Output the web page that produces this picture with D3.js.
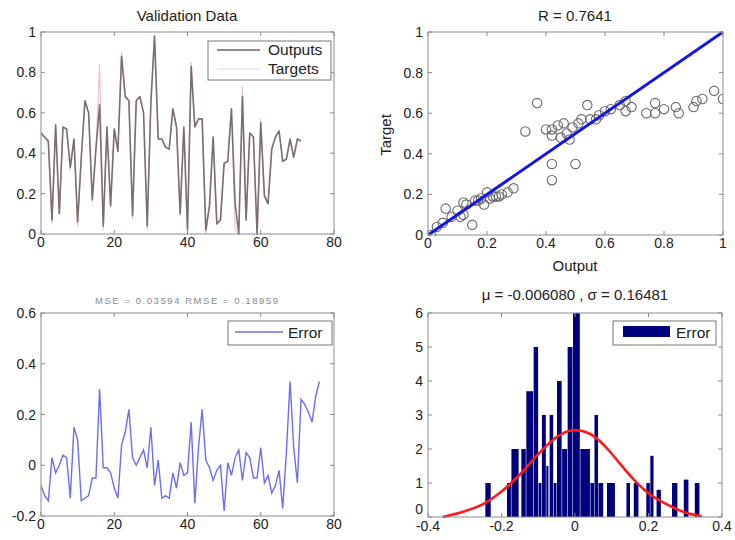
<!DOCTYPE html>
<html><head><meta charset="utf-8">
<script src="https://cdn.jsdelivr.net/npm/d3@7"></script>
<style>body{margin:0;background:#fff}svg{display:block;font-family:"Liberation Sans",Arial,sans-serif}</style>
</head><body><svg id="c" width="735" height="540"></svg>
<script>
// ---------- data ----------
const outputs = [0.50,0.48,0.46,0.07,0.54,0.10,0.53,0.52,0.33,0.47,
  0.06,0.38,0.66,0.60,0.17,0.42,0.64,0.04,0.53,0.14,
  0.52,0.41,0.88,0.68,0.66,0.09,0.66,0.68,0.60,0.04,
  0.65,0.98,0.47,0.47,0.43,0.42,0.62,0.53,0.10,0.53,
  0.02,0.83,0.53,0.57,0.57,0.02,0.14,0.48,0.05,0.07,
  0.35,0.36,0.62,0.15,0.00,0.68,0.07,0.50,0.48,0.00,
  0.55,0.19,0.15,0.42,0.48,0.51,0.36,0.37,0.47,0.38,
  0.47,0.46];
const targets = [0.50,0.48,0.45,0.05,0.54,0.10,0.53,0.52,0.32,0.47,
  0.04,0.38,0.66,0.60,0.16,0.42,0.84,0.02,0.53,0.13,
  0.52,0.41,0.90,0.68,0.66,0.08,0.66,0.68,0.60,0.02,
  0.65,0.98,0.47,0.47,0.43,0.42,0.62,0.53,0.09,0.53,
  0.00,0.85,0.53,0.57,0.57,0.00,0.14,0.48,0.05,0.07,
  0.35,0.36,0.62,0.02,0.00,0.73,0.07,0.50,0.48,0.00,
  0.57,0.19,0.15,0.42,0.48,0.51,0.36,0.37,0.47,0.38,
  0.47,0.46];
const errors = [-0.08,-0.12,-0.14,0.03,-0.03,0.00,0.04,0.03,-0.13,0.15,
  0.10,-0.14,-0.13,-0.12,-0.05,-0.05,0.30,-0.01,-0.01,-0.03,
  -0.09,-0.13,0.08,0.13,0.22,0.03,0.00,0.03,0.06,-0.01,
  0.15,-0.08,0.02,-0.13,-0.12,-0.13,-0.03,-0.09,0.01,-0.04,
  -0.03,0.17,-0.15,0.07,0.22,0.02,-0.01,-0.06,-0.02,0.00,
  -0.18,0.01,-0.04,0.03,0.06,-0.06,0.05,0.03,-0.05,-0.05,
  0.07,-0.07,-0.04,-0.11,-0.08,-0.02,-0.17,0.05,0.33,0.07,
  -0.07,0.26,0.24,0.21,0.17,0.27,0.33];
const scatterOutput = [0.01,0.03,0.05,0.06,0.08,0.10,0.11,0.12,0.12,0.13,0.15,0.16,0.17,0.18,0.19,0.20,0.21,0.22,0.23,0.24,0.25,0.27,0.29,
  0.33,0.37,0.40,0.42,0.42,0.42,0.42,0.44,0.45,0.46,0.47,0.48,0.49,0.50,0.51,0.52,0.54,0.55,0.57,0.58,0.60,0.62,0.65,0.67,0.67,0.69,
  0.74,0.77,0.77,0.80,0.84,0.85,0.90,0.91,0.93,0.97,1.00];
const scatterTarget = [0.00,0.04,0.06,0.13,0.09,0.12,0.09,0.16,0.10,0.15,0.05,0.17,0.17,0.18,0.15,0.21,0.18,0.19,0.19,0.19,0.20,0.21,0.23,
  0.51,0.65,0.52,0.49,0.35,0.27,0.52,0.54,0.48,0.55,0.50,0.47,0.53,0.35,0.55,0.57,0.64,0.57,0.57,0.59,0.61,0.62,0.64,0.66,0.61,0.63,
  0.60,0.65,0.60,0.62,0.63,0.60,0.63,0.66,0.67,0.71,0.67];
const binStart = [-0.244,-0.185,-0.173,-0.146,-0.1325,-0.1125,-0.099,-0.090,-0.078,-0.069,-0.058,-0.049,-0.035,-0.020,-0.0055,0.0145,0.042,0.053,0.064,0.087,0.140,0.160,0.194,0.205,0.222,0.264,0.296,0.326];
const binEnd   = [-0.228,-0.173,-0.152,-0.1325,-0.1125,-0.099,-0.090,-0.078,-0.071,-0.058,-0.049,-0.035,-0.020,-0.0055,0.0145,0.042,0.053,0.064,0.078,0.110,0.151,0.174,0.205,0.215,0.235,0.280,0.310,0.340];
const binCount = [1,1,2,2,3.7,5,1,3,1.5,3,1,4,2,5,6,2,1,3,1,1,1,1,1,1.8,0.8,1,1.1,1];
const fitX = [-0.36,-0.30,-0.25,-0.20,-0.15,-0.10,-0.05,-0.008,0.04,0.08,0.12,0.16,0.20,0.25,0.30,0.345];
const fitY = [0.0,0.17,0.38,0.75,1.25,1.85,2.35,2.55,2.45,2.10,1.60,1.10,0.70,0.37,0.13,0.02];

const ticksTime = [0,20,40,60,80];
const ticksUnit = [0,0.2,0.4,0.6,0.8,1];
const ticksErr = [-0.2,0,0.2,0.4,0.6];
const ticksHistX = [-0.4,-0.2,0,0.2,0.4];
const ticksHistY = [0,1,2,3,4,5,6];

// ---------- drawing ----------
const svg = d3.select("#c");
const FS = 14, TFS = 15, LFS = 15.5, TXT = "#222", AX = "#8c8c8c";
const fmt = v => d3.format("~g")(+v.toFixed(4)).replace("\u2212","-");
let clipId = 0;

function panel(b, xDom, yDom, xt, yt, opts) {
  const x = d3.scaleLinear().domain(xDom).range([b.l, b.r]);
  const y = d3.scaleLinear().domain(yDom).range([b.b, b.t]);
  const g = svg.append("g");
  const id = "clip" + (clipId++);
  svg.append("clipPath").attr("id", id).append("rect")
    .attr("x", b.l).attr("y", b.t - 1).attr("width", b.r - b.l).attr("height", b.b - b.t + 2);
  const marks = g.append("g").attr("clip-path", `url(#${id})`);
  const ax = g.append("g");
  return {x, y, marks, ax, b, xt, yt, opts: opts || {}};
}
function finishAxes(p) {
  const {x, y, ax, b, xt, yt, opts} = p;
  ax.append("rect").attr("x", b.l).attr("y", b.t).attr("width", b.r - b.l).attr("height", b.b - b.t)
    .attr("fill", "none").attr("stroke", AX).attr("stroke-width", 1);
  const tl = 4;
  xt.forEach(v => {
    ax.append("line").attr("x1", x(v)).attr("x2", x(v)).attr("y1", b.b).attr("y2", b.b - tl).attr("stroke", AX);
    ax.append("line").attr("x1", x(v)).attr("x2", x(v)).attr("y1", b.t).attr("y2", b.t + tl).attr("stroke", AX);
    ax.append("text").attr("x", x(v)).attr("y", b.b + (opts.xOff || 13)).attr("text-anchor", "middle")
      .attr("font-size", FS).attr("fill", TXT).text(fmt(v));
  });
  yt.forEach((v, i) => {
    ax.append("line").attr("y1", y(v)).attr("y2", y(v)).attr("x1", b.l).attr("x2", b.l + tl).attr("stroke", AX);
    ax.append("line").attr("y1", y(v)).attr("y2", y(v)).attr("x1", b.r).attr("x2", b.r - tl).attr("stroke", AX);
    const dy = (i === 0 && opts.y0Off !== undefined) ? opts.y0Off : 5;
    ax.append("text").attr("x", b.l - 5).attr("y", y(v) + dy).attr("text-anchor", "end")
      .attr("font-size", FS).attr("fill", TXT).text(fmt(v));
  });
}
function title(x, y, t, size, color) {
  svg.append("text").attr("x", x).attr("y", y).attr("text-anchor", "middle")
    .attr("font-size", size || TFS).attr("fill", color || TXT).text(t);
}

// Panel 1: Validation data
const p1 = panel({l:41, r:334, t:32, b:234}, [0,80], [0,1], ticksTime, ticksUnit);
const line1 = d3.line().x((d,i) => p1.x(i)).y(d => p1.y(d));
p1.marks.append("path").attr("d", line1(targets)).attr("fill","none").attr("stroke","#f0c4c4").attr("stroke-width",1.2).attr("stroke-linejoin","round");
p1.marks.append("path").attr("d", line1(outputs)).attr("fill","none").attr("stroke","#6e6464").attr("stroke-width",1.6).attr("stroke-linejoin","round").attr("opacity",0.9);
finishAxes(p1);
title(187, 21, "Validation Data");
{
  const lg = svg.append("g");
  lg.append("rect").attr("x",208).attr("y",41).attr("width",123).attr("height",39).attr("fill","#fff").attr("stroke","#777");
  lg.append("line").attr("x1",217).attr("x2",260).attr("y1",50).attr("y2",50).attr("stroke","#6e6464").attr("stroke-width",1.3);
  lg.append("line").attr("x1",217).attr("x2",260).attr("y1",69).attr("y2",69).attr("stroke","#f0d4d4").attr("stroke-width",1.1);
  lg.append("text").attr("x",268).attr("y",55).attr("font-size",LFS).attr("fill",TXT).text("Outputs");
  lg.append("text").attr("x",268).attr("y",74).attr("font-size",LFS).attr("fill",TXT).text("Targets");
}

// Panel 2: regression
const p2 = panel({l:428, r:723, t:32, b:235}, [0,1], [0,1], ticksUnit, ticksUnit);
p2.marks.selectAll("circle").data(scatterOutput).join("circle")
  .attr("cx", d => p2.x(d)).attr("cy", (d,i) => p2.y(scatterTarget[i])).attr("r", 4.7)
  .attr("fill","none").attr("stroke","#6a6a6a").attr("stroke-width",1.1);
p2.marks.append("line").attr("x1", p2.x(0)).attr("y1", p2.y(0)).attr("x2", p2.x(1)).attr("y2", p2.y(1))
  .attr("stroke","#1414e6").attr("stroke-width",3);
finishAxes(p2);
title(575, 21, "R = 0.7641");
title(575, 271, "Output");
svg.append("text").attr("transform","translate(391,135) rotate(-90)").attr("text-anchor","middle")
  .attr("font-size",TFS).attr("fill",TXT).text("Target");

// Panel 3: error
const p3 = panel({l:41, r:334, t:313, b:516}, [0,80], [-0.2,0.6], ticksTime, ticksErr);
const line3 = d3.line().x((d,i) => p3.x(i)).y(d => p3.y(d));
p3.marks.append("path").attr("d", line3(errors)).attr("fill","none").attr("stroke","#6d6df2").attr("stroke-width",1.4);
finishAxes(p3);
svg.append("text").attr("x",95).attr("y",304).attr("font-size",9.5).attr("fill","#8a8a8a")
  .attr("textLength",183).attr("lengthAdjust","spacing").text("MSE = 0.03594   RMSE = 0.18959");
{
  const lg = svg.append("g");
  lg.append("rect").attr("x",228).attr("y",321).attr("width",104).attr("height",24).attr("fill","#fff").attr("stroke","#777");
  lg.append("line").attr("x1",235).attr("x2",283).attr("y1",332).attr("y2",332).attr("stroke","#6d6df2").attr("stroke-width",1.4);
  lg.append("text").attr("x",288).attr("y",338).attr("font-size",LFS).attr("fill",TXT).text("Error");
}

// Panel 4: histogram
const p4 = panel({l:428, r:722, t:313, b:517}, [-0.4,0.4], [0,6], ticksHistX, ticksHistY, {xOff: 14, y0Off: -3});
p4.marks.selectAll("rect").data(binCount).join("rect")
  .attr("x", (d,i) => p4.x(binStart[i])).attr("width", (d,i) => Math.max(1, p4.x(binEnd[i]) - p4.x(binStart[i]) - 0.5))
  .attr("y", d => p4.y(d)).attr("height", d => p4.y(0) - p4.y(d)).attr("fill","#00007f");
const fitLine = d3.line().x(d => p4.x(d)).y((d,i) => p4.y(fitY[i])).curve(d3.curveCatmullRom);
p4.marks.append("path").attr("d", fitLine(fitX)).attr("fill","none").attr("stroke","#ff1a1a").attr("stroke-width",2.6);
finishAxes(p4);
title(575, 300, "μ = -0.006080 , σ = 0.16481");
{
  const lg = svg.append("g");
  lg.append("rect").attr("x",613).attr("y",321).attr("width",103).attr("height",24).attr("fill","#fff").attr("stroke","#777");
  lg.append("rect").attr("x",623).attr("y",326).attr("width",47).attr("height",11).attr("fill","#00007f");
  lg.append("text").attr("x",676).attr("y",338).attr("font-size",LFS).attr("fill",TXT).text("Error");
}
</script></body></html>
